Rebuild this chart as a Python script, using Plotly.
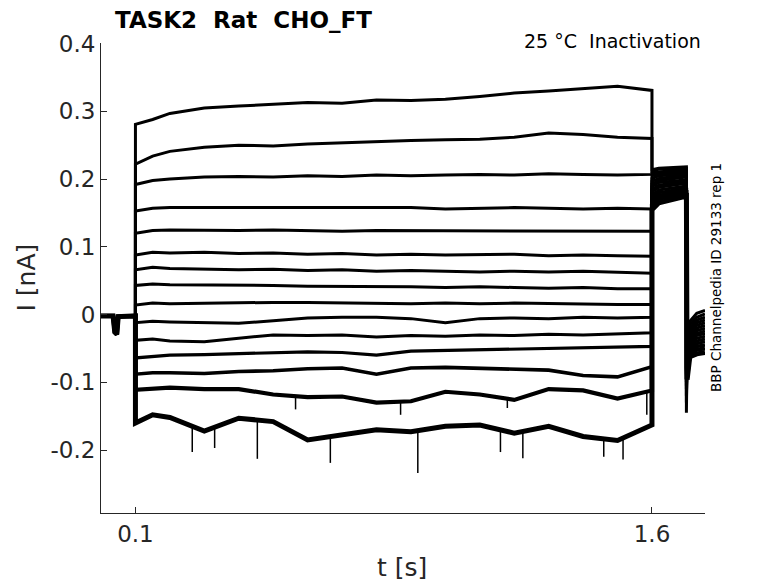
import plotly.graph_objects as go

# time grids [s]
HOLD_T = [0.0, 0.035, 0.04, 0.046, 0.05, 0.1]
STEP_T = [0.1, 0.15, 0.2, 0.3, 0.4, 0.5, 0.6, 0.7, 0.8, 0.9, 1.0, 1.1, 1.2, 1.3, 1.4, 1.5, 1.6]
POST_T = [1.6, 1.62, 1.7]
TAIL_T = [1.7, 1.702, 1.71, 1.73, 1.754]

# holding current before the step [nA]
HOLD_I = [-0.002, -0.002, -0.026, -0.029, -0.003, -0.002]

# current during the 1.5 s step, one list per sweep [nA]
STEP_I = [
    [0.281, 0.288, 0.297, 0.305, 0.308, 0.311, 0.313, 0.312, 0.317, 0.316, 0.318, 0.322, 0.327, 0.330, 0.334, 0.337, 0.331],
    [0.222, 0.234, 0.241, 0.247, 0.250, 0.249, 0.252, 0.254, 0.255, 0.257, 0.258, 0.259, 0.262, 0.268, 0.266, 0.262, 0.260],
    [0.192, 0.198, 0.200, 0.203, 0.204, 0.203, 0.205, 0.204, 0.206, 0.205, 0.206, 0.207, 0.206, 0.208, 0.207, 0.206, 0.207],
    [0.153, 0.157, 0.158, 0.158, 0.157, 0.158, 0.157, 0.158, 0.157, 0.158, 0.156, 0.157, 0.158, 0.157, 0.156, 0.157, 0.156],
    [0.120, 0.124, 0.125, 0.124, 0.124, 0.125, 0.124, 0.123, 0.124, 0.124, 0.123, 0.124, 0.123, 0.124, 0.123, 0.123, 0.123],
    [0.088, 0.092, 0.091, 0.092, 0.090, 0.091, 0.089, 0.090, 0.088, 0.089, 0.088, 0.088, 0.089, 0.087, 0.088, 0.087, 0.086],
    [0.066, 0.070, 0.068, 0.067, 0.066, 0.067, 0.065, 0.066, 0.064, 0.065, 0.064, 0.063, 0.064, 0.063, 0.064, 0.062, 0.061],
    [0.043, 0.045, 0.044, 0.044, 0.043, 0.043, 0.042, 0.042, 0.041, 0.041, 0.040, 0.041, 0.040, 0.039, 0.040, 0.038, 0.038],
    [0.014, 0.017, 0.016, 0.017, 0.017, 0.018, 0.018, 0.017, 0.017, 0.016, 0.017, 0.016, 0.017, 0.016, 0.016, 0.015, 0.015],
    [-0.012, -0.010, -0.011, -0.012, -0.013, -0.009, -0.005, -0.004, -0.004, -0.006, -0.012, -0.006, -0.005, -0.006, -0.004, -0.005, -0.004],
    [-0.038, -0.036, -0.039, -0.040, -0.035, -0.030, -0.031, -0.030, -0.033, -0.031, -0.032, -0.030, -0.031, -0.029, -0.030, -0.028, -0.027],
    [-0.064, -0.062, -0.060, -0.059, -0.058, -0.056, -0.055, -0.056, -0.060, -0.054, -0.053, -0.052, -0.051, -0.050, -0.049, -0.049, -0.047],
    [-0.088, -0.086, -0.086, -0.087, -0.084, -0.083, -0.080, -0.079, -0.088, -0.079, -0.078, -0.079, -0.080, -0.082, -0.090, -0.092, -0.077],
    [-0.111, -0.110, -0.108, -0.110, -0.110, -0.118, -0.122, -0.121, -0.130, -0.128, -0.114, -0.118, -0.126, -0.110, -0.112, -0.124, -0.112],
    [-0.160, -0.148, -0.152, -0.172, -0.153, -0.158, -0.185, -0.178, -0.170, -0.173, -0.165, -0.163, -0.175, -0.165, -0.180, -0.186, -0.163],
]

# current during the test pulse after the step [nA]
POST_I = [
    [0.214, 0.216, 0.218], [0.212, 0.215, 0.216], [0.209, 0.211, 0.213],
    [0.205, 0.208, 0.211], [0.201, 0.205, 0.208], [0.197, 0.201, 0.206],
    [0.193, 0.198, 0.203], [0.189, 0.195, 0.199], [0.185, 0.191, 0.197],
    [0.181, 0.188, 0.194], [0.176, 0.184, 0.190], [0.172, 0.180, 0.187],
    [0.168, 0.176, 0.184], [0.162, 0.171, 0.180], [0.155, 0.165, 0.175],
]

# tail current after the test pulse [nA]
TAIL_I = [
    [-0.145, -0.060, -0.010, 0.002, 0.006], [-0.130, -0.065, -0.015, -0.004, 0.001],
    [-0.120, -0.070, -0.020, -0.008, -0.004], [-0.110, -0.072, -0.024, -0.012, -0.008],
    [-0.105, -0.075, -0.028, -0.016, -0.012], [-0.100, -0.078, -0.032, -0.020, -0.016],
    [-0.095, -0.080, -0.035, -0.024, -0.020], [-0.090, -0.082, -0.038, -0.028, -0.024],
    [-0.088, -0.084, -0.041, -0.031, -0.028], [-0.085, -0.086, -0.044, -0.035, -0.032],
    [-0.082, -0.088, -0.047, -0.039, -0.036], [-0.080, -0.090, -0.050, -0.043, -0.040],
    [-0.078, -0.092, -0.053, -0.047, -0.045], [-0.075, -0.094, -0.057, -0.052, -0.050],
    [-0.072, -0.096, -0.062, -0.058, -0.056],
]

# sharp downward noise spikes on the two lowest sweeps: time, base, tip
SPIKE_T = [0.265, 0.33, 0.454, 0.666, 0.92, 1.16, 1.225, 1.46, 1.516,
           0.565, 0.87, 1.18, 1.585]
SPIKE_BASE = [-0.165, -0.166, -0.156, -0.180, -0.171, -0.170, -0.173, -0.184, -0.183,
              -0.121, -0.129, -0.124, -0.114]
SPIKE_TIP = [-0.203, -0.197, -0.213, -0.219, -0.234, -0.203, -0.212, -0.210, -0.214,
             -0.140, -0.148, -0.138, -0.148]

LINE_W = [3.0, 3.0, 3.0, 3.0, 3.0, 3.0, 3.0, 3.0, 3.0, 3.0, 3.0, 3.2, 3.6, 4.2, 5.0]

AX = "#262626"
FONT = "DejaVu Sans"

fig = go.Figure()

for k in range(len(STEP_I)):
    t = HOLD_T + STEP_T + POST_T + TAIL_T
    i = HOLD_I + STEP_I[k] + POST_I[k] + TAIL_I[k]
    fig.add_trace(go.Scatter(x=t, y=i, mode="lines",
                             line=dict(color="black", width=LINE_W[k]),
                             showlegend=False, hoverinfo="skip"))

# spikes as short vertical segments, separated by gaps
sx, sy = [], []
for t, b, p in zip(SPIKE_T, SPIKE_BASE, SPIKE_TIP):
    sx += [t, t, None]
    sy += [b, p, None]
fig.add_trace(go.Scatter(x=sx, y=sy, mode="lines", line=dict(color="black", width=1.5),
                         showlegend=False, hoverinfo="skip"))

fig.update_xaxes(range=[0, 1.754], tickvals=[0.1, 1.6], ticktext=["0.1", "1.6"],
                 ticks="inside", ticklen=6, tickcolor=AX, showline=True,
                 linecolor=AX, linewidth=1, showgrid=False, zeroline=False,
                 tickfont=dict(family=FONT, size=23, color=AX))
fig.update_yaxes(range=[-0.293, 0.401], tickvals=[-0.2, -0.1, 0, 0.1, 0.2, 0.3, 0.4],
                 ticktext=["-0.2", "-0.1", "0", "0.1", "0.2", "0.3", "0.4"],
                 ticks="inside", ticklen=6, tickcolor=AX, showline=True,
                 linecolor=AX, linewidth=1, showgrid=False, zeroline=False,
                 tickfont=dict(family=FONT, size=23, color=AX))

# the page puts the figure 8 px in from the top-left corner, so the figure is
# 8 px smaller and the margins are shifted to keep the axes where they belong
nb = "\u00a0"
fig.update_layout(
    width=770, height=575,
    margin=dict(l=93, r=73, t=35, b=70),
    paper_bgcolor="white", plot_bgcolor="white",
    font=dict(family=FONT, color=AX),
    annotations=[
        dict(text="<b>TASK2" + nb * 2 + "Rat" + nb * 2 + "CHO_FT</b>", xref="paper", yref="paper",
             x=0.0199, y=1.049, xanchor="left", yanchor="middle", showarrow=False,
             font=dict(family=FONT, size=23, color="black")),
        dict(text="25 °C" + nb * 2 + "Inactivation", xref="paper", yref="paper",
             x=0.9967, y=1.004, xanchor="right", yanchor="middle", showarrow=False,
             font=dict(family=FONT, size=19, color="black")),
        dict(text="BBP Channelpedia ID 29133 rep 1", xref="paper", yref="paper",
             x=1.018, y=0.502, textangle=-90, xanchor="center", yanchor="middle",
             showarrow=False, font=dict(family=FONT, size=13.5, color="black")),
        dict(text="I [nA]", xref="paper", yref="paper", x=-0.1225, y=0.501,
             textangle=-90, xanchor="center", yanchor="middle", showarrow=False,
             font=dict(family=FONT, size=25, color=AX)),
        dict(text="t [s]", xref="paper", yref="paper", x=0.498, y=-0.115,
             xanchor="center", yanchor="middle", showarrow=False,
             font=dict(family=FONT, size=25, color=AX)),
    ],
)

fig.write_html("out.html")
